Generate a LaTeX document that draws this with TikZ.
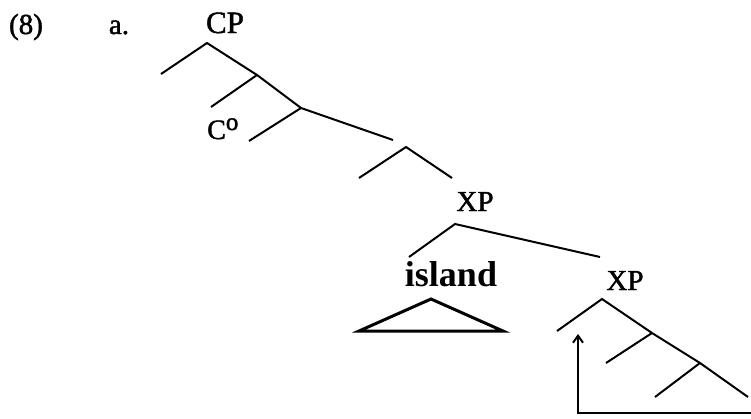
\documentclass[tikz,border=0pt]{standalone}
\usepackage{fontspec}
\setmainfont{Liberation Serif}
\newfontfamily\scanfont[FakeBold=1.5]{Liberation Serif}
\usetikzlibrary{arrows.meta}
\begin{document}
\begin{tikzpicture}[x=1pt,y=-1pt,
  br/.style={line width=2pt},
  tri/.style={line width=3pt, line join=miter},
  lbl/.style={inner sep=0pt, anchor=base},
  big/.style={font=\fontsize{31}{33}\scanfont},
  mid/.style={font=\fontsize{29}{31}\scanfont},
  sml/.style={font=\fontsize{29}{31}\scanfont}]
\useasboundingbox (0,0) rectangle (751,418);
% labels
\node[lbl,sml] (ex) at (26,34) {(8)};
\node[lbl,sml] (a) at (119,34) {a.};
\node[lbl,big] (cp) at (225,33) {CP};
\node[lbl,font=\fontsize{28}{30}\scanfont,anchor=base west] (c0) at (207,139) {C\raisebox{9pt}{\fontsize{25}{27}\scanfont o}};
\node[lbl,mid] (xp1) at (475,211) {XP};
\node[lbl,font=\fontsize{36}{38}\selectfont\bfseries] (isl) at (451,286) {island};
\node[lbl,mid] (xp2) at (625,290) {XP};
% branch points
\coordinate (p0) at (207,43);
\coordinate (p0l) at (161,74);
\coordinate (p1) at (257,75);
\coordinate (p1l) at (211,107);
\coordinate (p2) at (301,108);
\coordinate (p2l) at (249,141);
\coordinate (p2r) at (393,140);
\coordinate (p3) at (406,147);
\coordinate (p3l) at (359,178);
\coordinate (p3r) at (452,178);
\coordinate (q0) at (455,224);
\coordinate (q0l) at (409,257);
\coordinate (q0r) at (600,257);
\coordinate (ta) at (431,299);
\coordinate (tl) at (359,331);
\coordinate (tr) at (503,331);
\coordinate (r0) at (602,299);
\coordinate (r0l) at (557,331);
\coordinate (r1) at (652,333);
\coordinate (r1l) at (606,363);
\coordinate (r2) at (700,363);
\coordinate (r2l) at (655,397);
\coordinate (r2r) at (748,397);
\coordinate (ab) at (578,413);
\coordinate (at) at (578,334);
\coordinate (ae) at (751,413);
% tree
\draw[br] (p0l) -- (p0) -- (p1) -- (p2);
\draw[br] (p1) -- (p1l);
\draw[br] (p2l) -- (p2) -- (p2r);
\draw[br] (p3l) -- (p3) -- (p3r);
\draw[br] (q0l) -- (q0) -- (q0r);
\draw[tri] (ta) -- (tl) -- (tr) -- cycle;
\draw[br] (r0l) -- (r0) -- (r1) -- (r2) -- (r2r);
\draw[br] (r1) -- (r1l);
\draw[br] (r2) -- (r2l);
% movement arrow
\draw[br,-{Straight Barb[length=7pt,width=10pt]}] (ae) -- (ab) -- (at);
\end{tikzpicture}
\end{document}
